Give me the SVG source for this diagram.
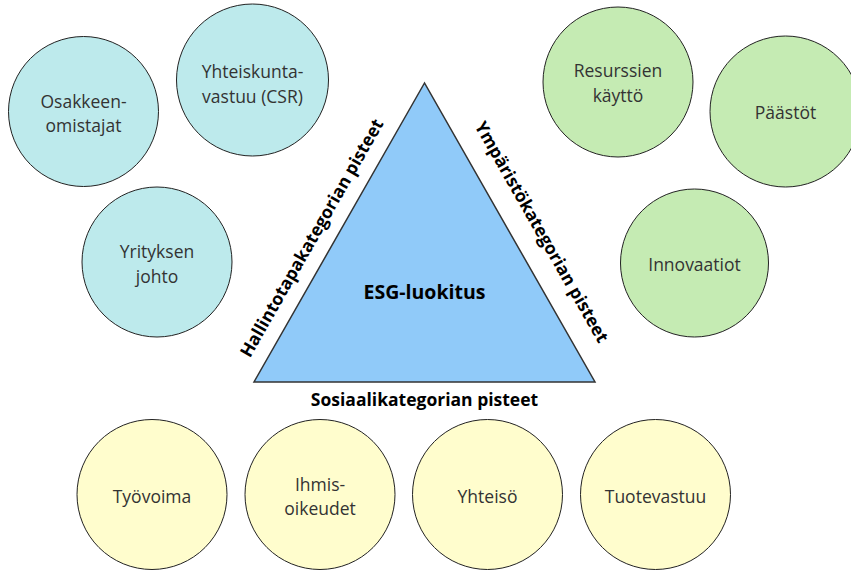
<svg xmlns="http://www.w3.org/2000/svg" width="851" height="572" viewBox="0 0 851 572">
<style>
.c{stroke:#222;stroke-width:1}
.g{fill:#bdeaec}
.e{fill:#c5ebb3}
.s{fill:#fffdcd}
.t{font-family:"Open Sans","Noto Sans",sans-serif;font-size:17.5px;fill:#333;text-anchor:middle}
.b{font-family:"Open Sans","Noto Sans",sans-serif;font-weight:bold;font-size:17.5px;fill:#000;text-anchor:middle}
</style>
<rect width="851" height="572" fill="#fff"/>
<g id="triangle">
<polygon points="424.5,83 254,382 595,382" fill="#90caf9" stroke="#333" stroke-width="1.5"/>
<text class="b" x="424.5" y="299" style="font-size:19.5px">ESG-luokitus</text>
</g>
<g id="edge-labels">
<text class="b" transform="translate(317,241) rotate(-60.3)" x="0" y="0">Hallintotapakategorian pisteet</text>
<text class="b" transform="translate(536.5,235) rotate(60.3)" x="0" y="0">Ympäristökategorian pisteet</text>
<text class="b" x="424.5" y="406">Sosiaalikategorian pisteet</text>
</g>
<g id="osakkeenomistajat"><circle class="c g" cx="83.5" cy="111.5" r="75"/><text class="t" x="83.5" y="108">Osakkeen-</text><text class="t" x="83.5" y="132">omistajat</text></g>
<g id="yhteiskuntavastuu"><circle class="c g" cx="252.5" cy="80" r="76"/><text class="t" x="252.5" y="78">Yhteiskunta-</text><text class="t" x="252.5" y="103">vastuu (CSR)</text></g>
<g id="yrityksen-johto"><circle class="c g" cx="157" cy="262" r="75"/><text class="t" x="157" y="258">Yrityksen</text><text class="t" x="157" y="283">johto</text></g>
<g id="resurssien-kaytto"><circle class="c e" cx="618" cy="82" r="75"/><text class="t" x="618" y="76.5">Resurssien</text><text class="t" x="618" y="101.5">käyttö</text></g>
<g id="paastot"><circle class="c e" cx="785.5" cy="111.5" r="75.5"/><text class="t" x="785.5" y="119">Päästöt</text></g>
<g id="innovaatiot"><circle class="c e" cx="694.5" cy="263" r="74"/><text class="t" x="694.5" y="271">Innovaatiot</text></g>
<g id="tyovoima"><circle class="c s" cx="152" cy="494.5" r="75"/><text class="t" x="152" y="503">Työvoima</text></g>
<g id="ihmisoikeudet"><circle class="c s" cx="320" cy="494.5" r="75"/><text class="t" x="320" y="491">Ihmis-</text><text class="t" x="320" y="515">oikeudet</text></g>
<g id="yhteiso"><circle class="c s" cx="487.5" cy="494.5" r="75"/><text class="t" x="487.5" y="503">Yhteisö</text></g>
<g id="tuotevastuu"><circle class="c s" cx="655.5" cy="494.5" r="75"/><text class="t" x="655.5" y="503">Tuotevastuu</text></g>
<g id="connectors"/>
</svg>
